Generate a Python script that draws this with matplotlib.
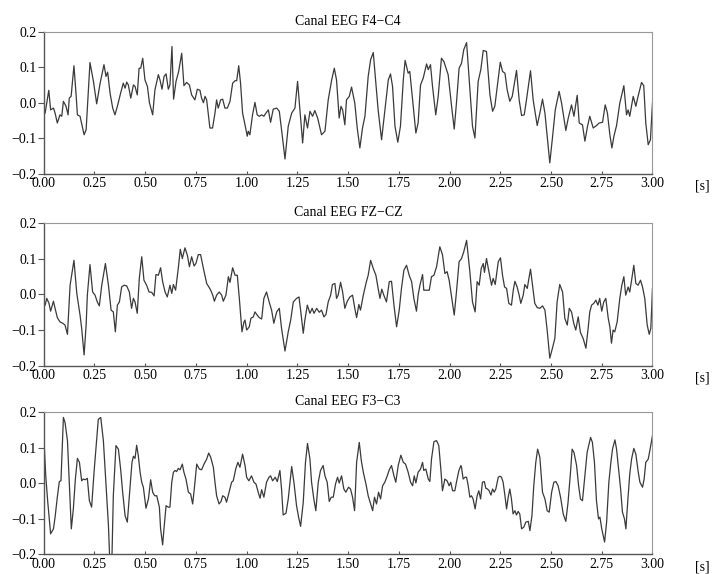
import numpy as np
import matplotlib.pyplot as plt

plt.rcParams['font.family'] = ['Liberation Serif', 'DejaVu Serif']

# Canal EEG F4-C4: (tiempo [s], amplitud)
f4c4 = [
    (0.007, -0.029), (0.025, 0.035), (0.034, -0.020), (0.048, -0.015), (0.056, -0.029), (0.067, -0.057),
    (0.080, -0.034), (0.089, -0.038), (0.097, 0.004), (0.110, -0.010), (0.120, -0.034), (0.126, 0.013),
    (0.135, 0.018), (0.149, 0.104), (0.159, 0.027), (0.166, -0.034), (0.179, -0.038), (0.199, -0.090),
    (0.209, -0.076), (0.228, 0.113), (0.245, 0.060), (0.261, -0.003), (0.278, 0.055), (0.297, 0.107),
    (0.307, 0.074), (0.315, 0.086), (0.327, 0.027), (0.340, -0.015), (0.351, -0.034), (0.363, -0.010),
    (0.379, 0.027), (0.392, 0.055), (0.401, 0.041), (0.409, 0.058), (0.417, 0.050), (0.429, 0.013),
    (0.442, 0.050), (0.450, 0.046), (0.461, 0.022), (0.470, 0.097), (0.478, 0.097), (0.488, 0.125),
    (0.499, 0.064), (0.511, 0.046), (0.521, 0.000), (0.537, -0.034), (0.548, 0.036), (0.565, 0.079),
    (0.573, 0.064), (0.583, 0.038), (0.593, 0.074), (0.603, 0.081), (0.614, 0.038), (0.622, 0.050),
    (0.632, 0.158), (0.640, 0.010), (0.652, 0.060), (0.665, 0.088), (0.680, 0.139), (0.691, 0.048),
    (0.704, 0.057), (0.718, 0.050), (0.729, 0.022), (0.745, 0.008), (0.757, 0.038), (0.770, 0.035),
    (0.778, 0.013), (0.787, 0.000), (0.795, 0.018), (0.803, 0.008), (0.819, -0.071), (0.832, -0.071),
    (0.844, -0.029), (0.852, 0.008), (0.860, -0.015), (0.872, 0.008), (0.882, 0.010), (0.893, -0.015),
    (0.905, -0.015), (0.918, 0.004), (0.931, 0.055), (0.943, 0.062), (0.951, 0.062), (0.961, 0.104),
    (0.970, 0.055), (0.980, -0.029), (0.992, -0.062), (1.003, -0.094), (1.008, -0.080), (1.016, -0.090),
    (1.029, -0.034), (1.041, 0.001), (1.052, -0.034), (1.062, -0.038), (1.074, -0.034), (1.085, -0.038),
    (1.095, -0.029), (1.107, -0.020), (1.118, -0.055), (1.131, -0.018), (1.148, -0.015), (1.161, -0.024),
    (1.174, -0.085), (1.189, -0.158), (1.205, -0.066), (1.222, -0.029), (1.238, -0.015), (1.251, 0.060),
    (1.263, -0.024), (1.276, -0.113), (1.287, -0.034), (1.300, -0.071), (1.312, -0.024), (1.325, -0.038),
    (1.336, -0.022), (1.350, -0.043), (1.369, -0.090), (1.386, -0.080), (1.402, 0.008), (1.419, 0.064),
    (1.432, 0.097), (1.443, 0.064), (1.456, -0.043), (1.465, -0.010), (1.473, -0.020), (1.484, -0.062),
    (1.492, 0.008), (1.506, 0.018), (1.517, 0.044), (1.533, -0.001), (1.545, -0.071), (1.558, -0.127),
    (1.571, -0.071), (1.583, -0.038), (1.599, 0.074), (1.611, 0.121), (1.624, 0.141), (1.637, 0.055),
    (1.648, -0.020), (1.665, -0.104), (1.676, -0.048), (1.698, 0.064), (1.709, 0.081), (1.719, 0.046),
    (1.731, -0.066), (1.745, -0.111), (1.758, -0.066), (1.772, 0.064), (1.781, 0.119), (1.796, 0.083),
    (1.804, 0.088), (1.818, 0.008), (1.834, -0.085), (1.845, -0.057), (1.857, 0.050), (1.870, 0.069),
    (1.887, 0.109), (1.895, 0.093), (1.906, 0.107), (1.916, 0.046), (1.932, -0.034), (1.944, 0.018),
    (1.960, 0.125), (1.972, 0.116), (1.993, 0.079), (2.010, -0.010), (2.023, -0.074), (2.034, -0.001),
    (2.047, 0.097), (2.059, 0.111), (2.070, 0.149), (2.084, 0.169), (2.097, 0.064), (2.113, -0.066),
    (2.125, -0.099), (2.141, 0.060), (2.154, 0.093), (2.166, 0.147), (2.182, 0.144), (2.199, 0.022),
    (2.212, -0.024), (2.223, -0.010), (2.235, 0.046), (2.250, 0.114), (2.261, 0.088), (2.273, 0.083),
    (2.284, 0.036), (2.297, 0.004), (2.309, 0.018), (2.330, 0.091), (2.343, 0.008), (2.355, -0.036),
    (2.368, -0.034), (2.379, 0.008), (2.399, 0.090), (2.412, 0.008), (2.432, -0.064), (2.445, -0.029),
    (2.458, 0.010), (2.470, -0.029), (2.481, -0.094), (2.494, -0.169), (2.507, -0.099), (2.521, -0.020),
    (2.540, 0.032), (2.552, -0.001), (2.573, -0.078), (2.585, -0.043), (2.601, -0.006), (2.613, -0.038),
    (2.629, 0.021), (2.639, -0.057), (2.655, -0.062), (2.667, -0.108), (2.680, -0.066), (2.691, -0.038),
    (2.708, -0.071), (2.724, -0.064), (2.737, -0.057), (2.754, -0.055), (2.767, -0.006), (2.778, -0.029),
    (2.790, -0.090), (2.800, -0.127), (2.810, -0.094), (2.823, -0.064), (2.839, -0.001), (2.859, 0.048),
    (2.872, -0.034), (2.880, -0.020), (2.888, -0.038), (2.905, 0.018), (2.918, -0.010), (2.929, 0.018),
    (2.946, 0.057), (2.957, 0.048), (2.967, -0.057), (2.979, -0.118), (2.990, -0.104), (3.000, -0.001),
]

# Canal EEG FZ-CZ
fzcz = [
    (0.007, -0.030), (0.015, -0.011), (0.026, -0.025), (0.034, -0.047), (0.048, -0.019), (0.056, -0.039),
    (0.067, -0.065), (0.080, -0.077), (0.094, -0.081), (0.105, -0.086), (0.117, -0.112), (0.130, 0.026),
    (0.149, 0.096), (0.163, 0.003), (0.179, -0.058), (0.187, -0.095), (0.199, -0.170), (0.209, -0.086),
    (0.215, -0.002), (0.228, 0.084), (0.241, 0.007), (0.253, -0.002), (0.264, -0.021), (0.274, -0.032),
    (0.286, 0.026), (0.304, 0.087), (0.319, 0.026), (0.332, -0.044), (0.343, -0.049), (0.353, -0.105),
    (0.363, -0.030), (0.373, -0.021), (0.384, 0.021), (0.396, 0.026), (0.409, 0.024), (0.422, 0.007),
    (0.433, -0.039), (0.442, -0.011), (0.450, -0.021), (0.461, -0.053), (0.471, 0.045), (0.483, 0.106),
    (0.494, 0.040), (0.507, 0.026), (0.519, 0.007), (0.532, 0.006), (0.544, -0.004), (0.553, 0.056),
    (0.565, 0.054), (0.576, 0.075), (0.586, 0.036), (0.598, 0.007), (0.609, -0.007), (0.622, 0.026),
    (0.631, 0.003), (0.639, 0.028), (0.650, 0.012), (0.663, 0.073), (0.673, 0.127), (0.683, 0.101),
    (0.696, 0.131), (0.708, 0.110), (0.718, 0.078), (0.729, 0.106), (0.741, 0.080), (0.750, 0.087),
    (0.762, 0.112), (0.773, 0.112), (0.787, 0.073), (0.803, 0.031), (0.814, 0.021), (0.823, 0.012),
    (0.833, -0.002), (0.841, -0.019), (0.852, -0.002), (0.865, 0.007), (0.877, -0.002), (0.885, -0.019),
    (0.898, -0.002), (0.910, 0.050), (0.918, 0.034), (0.931, 0.075), (0.943, 0.054), (0.954, 0.054),
    (0.964, -0.011), (0.977, -0.105), (0.987, -0.077), (0.992, -0.072), (1.000, -0.100), (1.013, -0.091),
    (1.021, -0.067), (1.033, -0.063), (1.041, -0.049), (1.052, -0.058), (1.062, -0.065), (1.074, -0.069),
    (1.085, -0.011), (1.098, 0.007), (1.111, -0.021), (1.123, -0.044), (1.134, -0.081), (1.148, -0.049),
    (1.161, -0.039), (1.172, -0.095), (1.189, -0.159), (1.205, -0.105), (1.217, -0.072), (1.230, -0.021),
    (1.246, -0.011), (1.258, -0.007), (1.267, -0.049), (1.279, -0.109), (1.287, -0.072), (1.299, -0.030),
    (1.312, -0.053), (1.323, -0.039), (1.332, -0.053), (1.345, -0.039), (1.358, -0.050), (1.369, -0.044),
    (1.381, -0.063), (1.391, -0.056), (1.402, -0.021), (1.414, -0.002), (1.423, 0.028), (1.435, 0.031),
    (1.443, -0.011), (1.451, -0.002), (1.463, 0.034), (1.473, 0.007), (1.484, -0.039), (1.496, -0.019),
    (1.509, -0.007), (1.522, -0.002), (1.533, -0.039), (1.542, -0.065), (1.553, -0.028), (1.561, -0.044),
    (1.575, -0.002), (1.588, 0.031), (1.599, 0.054), (1.611, 0.096), (1.624, 0.073), (1.637, 0.054),
    (1.648, 0.017), (1.657, -0.011), (1.666, 0.015), (1.676, -0.002), (1.689, -0.021), (1.703, 0.036),
    (1.714, 0.037), (1.726, -0.030), (1.739, -0.091), (1.752, -0.044), (1.763, 0.017), (1.775, 0.068),
    (1.788, 0.082), (1.801, 0.054), (1.813, 0.036), (1.824, -0.011), (1.837, -0.047), (1.845, -0.002),
    (1.854, 0.026), (1.867, 0.056), (1.873, 0.012), (1.887, 0.012), (1.900, 0.012), (1.911, 0.050),
    (1.923, 0.054), (1.936, 0.078), (1.952, 0.134), (1.965, 0.112), (1.977, 0.059), (1.988, 0.064),
    (1.998, 0.040), (2.010, -0.007), (2.023, -0.058), (2.034, 0.007), (2.047, 0.092), (2.059, 0.101),
    (2.070, 0.120), (2.084, 0.152), (2.100, 0.064), (2.113, -0.021), (2.126, -0.049), (2.136, 0.036),
    (2.146, 0.026), (2.156, 0.073), (2.166, 0.087), (2.172, 0.062), (2.182, 0.101), (2.194, 0.064),
    (2.207, 0.026), (2.215, 0.045), (2.225, 0.028), (2.240, 0.092), (2.251, 0.103), (2.261, 0.054),
    (2.271, 0.021), (2.281, 0.017), (2.292, -0.025), (2.305, -0.030), (2.314, 0.012), (2.322, 0.037),
    (2.333, 0.021), (2.343, -0.002), (2.351, -0.025), (2.363, -0.002), (2.371, 0.028), (2.383, 0.017),
    (2.391, 0.045), (2.399, 0.071), (2.409, 0.026), (2.420, -0.025), (2.432, -0.037), (2.445, -0.039),
    (2.458, -0.032), (2.470, -0.044), (2.481, -0.100), (2.494, -0.179), (2.507, -0.151), (2.519, -0.123),
    (2.530, -0.021), (2.543, 0.028), (2.557, 0.007), (2.568, -0.067), (2.580, -0.086), (2.590, -0.039),
    (2.601, -0.049), (2.612, -0.081), (2.622, -0.100), (2.634, -0.063), (2.645, -0.107), (2.658, -0.123),
    (2.672, -0.151), (2.683, -0.095), (2.691, -0.049), (2.700, -0.030), (2.711, -0.025), (2.721, -0.016),
    (2.731, -0.030), (2.740, -0.011), (2.750, -0.047), (2.760, -0.021), (2.770, -0.011), (2.782, -0.067),
    (2.790, -0.091), (2.798, -0.137), (2.806, -0.100), (2.814, -0.105), (2.826, -0.077), (2.839, -0.011),
    (2.849, 0.026), (2.859, 0.050), (2.868, -0.002), (2.880, 0.021), (2.888, 0.007), (2.896, 0.036),
    (2.908, 0.082), (2.918, 0.031), (2.929, 0.026), (2.941, 0.040), (2.951, 0.021), (2.962, -0.011),
    (2.974, -0.086), (2.984, -0.112), (2.992, -0.095), (3.000, 0.017),
]

# Canal EEG F3-C3
f3c3 = [
    (0.003, 0.101), (0.010, 0.021), (0.020, -0.053), (0.034, -0.142), (0.048, -0.128), (0.056, -0.095),
    (0.067, -0.039), (0.077, 0.005), (0.085, 0.007), (0.097, 0.185), (0.105, 0.171), (0.117, 0.120),
    (0.126, 0.003), (0.136, -0.128), (0.146, -0.072), (0.156, 0.012), (0.166, 0.070), (0.176, 0.059),
    (0.187, 0.007), (0.195, 0.012), (0.204, 0.010), (0.215, 0.014), (0.225, -0.049), (0.236, -0.067),
    (0.248, 0.031), (0.258, 0.101), (0.269, 0.180), (0.281, 0.185), (0.294, 0.120), (0.307, -0.007),
    (0.319, -0.119), (0.327, -0.240), (0.335, -0.240), (0.343, -0.035), (0.356, 0.106), (0.368, 0.096),
    (0.379, 0.040), (0.389, -0.025), (0.401, -0.091), (0.412, -0.109), (0.425, -0.016), (0.435, 0.059),
    (0.442, 0.076), (0.450, 0.070), (0.458, 0.107), (0.466, 0.078), (0.475, 0.031), (0.483, 0.003),
    (0.491, -0.011), (0.504, -0.070), (0.516, -0.044), (0.527, 0.010), (0.537, -0.025), (0.547, -0.035),
    (0.557, -0.035), (0.570, -0.067), (0.576, -0.128), (0.586, -0.173), (0.594, -0.119), (0.603, -0.063),
    (0.614, -0.067), (0.622, -0.067), (0.631, 0.003), (0.639, 0.031), (0.647, 0.036), (0.655, 0.033),
    (0.663, 0.042), (0.672, 0.038), (0.683, 0.054), (0.691, 0.031), (0.701, 0.012), (0.713, -0.025),
    (0.724, -0.030), (0.734, -0.058), (0.742, -0.016), (0.754, 0.054), (0.767, 0.040), (0.778, 0.038),
    (0.790, 0.054), (0.803, 0.068), (0.813, 0.085), (0.823, 0.073), (0.836, 0.045), (0.844, 0.003),
    (0.852, -0.035), (0.864, -0.058), (0.874, -0.051), (0.882, -0.035), (0.893, -0.039), (0.901, -0.053),
    (0.915, -0.021), (0.926, 0.003), (0.934, 0.007), (0.947, 0.042), (0.957, 0.059), (0.967, 0.045),
    (0.980, 0.082), (0.992, 0.050), (1.000, 0.017), (1.011, 0.007), (1.024, 0.021), (1.036, 0.003),
    (1.046, -0.002), (1.057, -0.025), (1.066, -0.042), (1.074, -0.018), (1.085, -0.039), (1.098, 0.003),
    (1.110, 0.017), (1.118, 0.021), (1.128, 0.007), (1.141, 0.017), (1.151, 0.005), (1.164, 0.036),
    (1.172, -0.016), (1.180, -0.089), (1.194, -0.084), (1.205, -0.044), (1.222, 0.047), (1.233, 0.003),
    (1.246, -0.063), (1.256, -0.095), (1.266, -0.121), (1.279, -0.053), (1.290, 0.059), (1.300, 0.112),
    (1.312, 0.068), (1.320, 0.003), (1.331, -0.044), (1.341, -0.077), (1.353, 0.003), (1.364, 0.036),
    (1.377, 0.050), (1.386, 0.021), (1.397, 0.003), (1.407, -0.051), (1.417, -0.039), (1.427, -0.039),
    (1.438, -0.002), (1.448, 0.017), (1.456, 0.001), (1.468, 0.021), (1.479, -0.016), (1.489, -0.025),
    (1.502, -0.011), (1.512, -0.016), (1.522, -0.039), (1.532, -0.077), (1.542, 0.059), (1.555, 0.115),
    (1.565, 0.064), (1.575, 0.031), (1.588, -0.002), (1.599, -0.035), (1.611, -0.058), (1.621, -0.077),
    (1.630, -0.039), (1.640, -0.058), (1.650, -0.025), (1.660, -0.044), (1.670, -0.007), (1.681, 0.003),
    (1.693, 0.021), (1.703, 0.038), (1.714, 0.050), (1.726, 0.021), (1.735, 0.003), (1.747, 0.050),
    (1.760, 0.079), (1.772, 0.059), (1.783, 0.054), (1.796, 0.031), (1.808, 0.003), (1.818, -0.007),
    (1.826, 0.021), (1.834, 0.001), (1.845, 0.031), (1.857, 0.040), (1.867, 0.059), (1.873, 0.036),
    (1.883, 0.040), (1.895, 0.012), (1.903, 0.005), (1.911, 0.068), (1.923, 0.117), (1.936, 0.120),
    (1.947, 0.106), (1.957, 0.040), (1.965, -0.021), (1.977, 0.012), (1.988, 0.007), (1.998, -0.007),
    (2.006, 0.003), (2.015, -0.021), (2.026, -0.021), (2.034, 0.003), (2.046, 0.036), (2.056, 0.050),
    (2.059, 0.045), (2.067, 0.012), (2.076, 0.017), (2.084, 0.017), (2.092, -0.007), (2.100, -0.039),
    (2.108, -0.035), (2.116, -0.044), (2.126, -0.072), (2.136, -0.035), (2.144, -0.021), (2.153, -0.044),
    (2.162, 0.003), (2.171, 0.005), (2.179, -0.014), (2.187, -0.016), (2.195, -0.021), (2.204, -0.033),
    (2.212, -0.016), (2.220, -0.025), (2.228, -0.016), (2.240, 0.017), (2.248, 0.020), (2.256, 0.017),
    (2.264, 0.003), (2.273, -0.035), (2.281, -0.072), (2.289, -0.039), (2.297, -0.016), (2.305, -0.044),
    (2.313, -0.086), (2.322, -0.077), (2.330, -0.089), (2.338, -0.079), (2.346, -0.086), (2.355, -0.128),
    (2.366, -0.123), (2.376, -0.109), (2.388, -0.107), (2.396, -0.133), (2.406, -0.091), (2.415, -0.007),
    (2.425, 0.059), (2.434, 0.096), (2.445, 0.073), (2.458, -0.025), (2.470, -0.044), (2.481, -0.077),
    (2.491, -0.081), (2.503, -0.025), (2.514, 0.003), (2.524, 0.005), (2.535, -0.007), (2.547, -0.039),
    (2.560, -0.086), (2.573, -0.107), (2.584, -0.053), (2.596, 0.031), (2.604, 0.096), (2.613, 0.087),
    (2.626, 0.050), (2.636, -0.007), (2.645, -0.044), (2.655, -0.049), (2.667, 0.021), (2.678, 0.087),
    (2.695, 0.129), (2.704, 0.115), (2.714, 0.059), (2.724, -0.049), (2.734, -0.100), (2.741, -0.095),
    (2.750, -0.128), (2.764, -0.165), (2.774, -0.109), (2.785, 0.003), (2.795, 0.059), (2.803, 0.096),
    (2.815, 0.122), (2.823, 0.096), (2.833, 0.040), (2.843, -0.016), (2.852, -0.081), (2.862, -0.100),
    (2.869, -0.128), (2.879, -0.044), (2.888, 0.026), (2.897, 0.068), (2.908, 0.098), (2.918, 0.082),
    (2.930, 0.031), (2.938, 0.003), (2.951, -0.011), (2.959, 0.012), (2.967, 0.059), (2.979, 0.068),
    (2.987, 0.092), (3.000, 0.134),
]

titles = ['Canal EEG F4\u2212C4', 'Canal EEG FZ\u2212CZ', 'Canal EEG F3\u2212C3']
xticks = [0.0, 0.25, 0.5, 0.75, 1.0, 1.25, 1.5, 1.75, 2.0, 2.25, 2.5, 2.75, 3.0]
yticks = [-0.2, -0.1, 0.0, 0.1, 0.2]

fig = plt.figure(figsize=(7.12, 5.74), dpi=100)
bottoms = [0.697, 0.363, 0.034]

for b, title, canal in zip(bottoms, titles, [f4c4, fzcz, f3c3]):
    t, v = np.array(canal).T
    ax = fig.add_axes([0.0614, b, 0.855, 0.248])
    ax.plot(t, v, color='#3a3a3a', lw=0.9)
    ax.set_xlim(0, 3)
    ax.set_ylim(-0.2, 0.2)
    ax.set_xticks(xticks)
    ax.set_xticklabels([f'{x:.2f}' for x in xticks])
    ax.set_yticks(yticks)
    ax.set_yticklabels([f'{y:.1f}'.replace('-', '\u2212') for y in yticks])
    ax.tick_params(axis='y', labelsize=10, length=4, width=0.8, color='#555555', pad=1)
    ax.tick_params(axis='x', labelsize=10, direction='in', length=2, width=0.8,
                   color='#555555', pad=2.5)
    for s in ['top', 'right']:
        ax.spines[s].set_color('#999999')
        ax.spines[s].set_linewidth(0.8)
    for s in ['left', 'bottom']:
        ax.spines[s].set_color('#555555')
        ax.spines[s].set_linewidth(1.0)
    ax.set_title(title, fontsize=10, pad=5)
    ax.text(1.082, -0.085, '[s]', transform=ax.transAxes, fontsize=10, ha='center', va='center')

plt.savefig('out.png', dpi=100)
